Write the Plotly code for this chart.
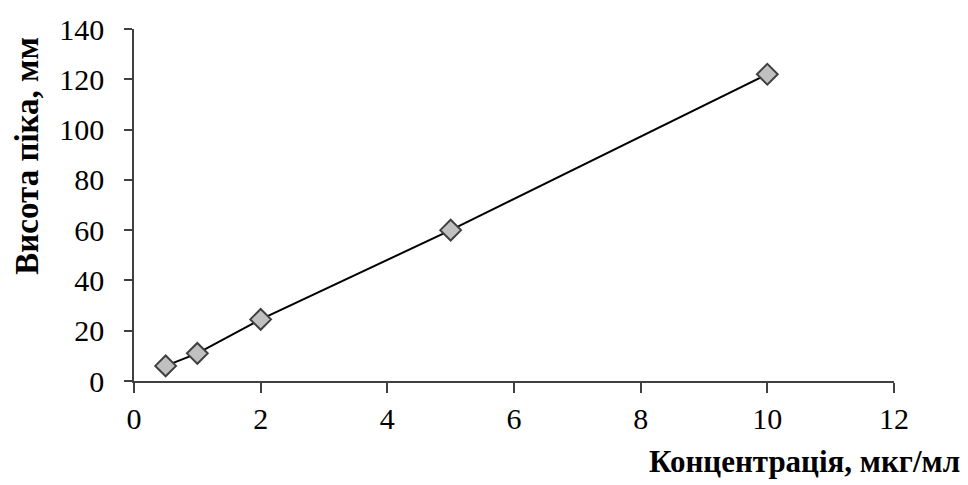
import plotly.graph_objects as go

concentration = [0.5, 1, 2, 5, 10]
peak_height = [6, 11, 24.5, 60, 122]
x_ticks = [0, 2, 4, 6, 8, 10, 12]
y_ticks = [0, 20, 40, 60, 80, 100, 120, 140]
x_title = "Концентрація, мкг/мл"
y_title = "Висота піка, мм"

SERIF = "'Liberation Serif', 'Times New Roman', serif"

fig = go.Figure()
fig.add_trace(go.Scatter(
    x=concentration, y=peak_height, mode="lines",
    line=dict(color="black", width=2), showlegend=False, hoverinfo="skip"))
fig.add_trace(go.Scatter(
    x=concentration, y=peak_height, mode="markers",
    marker=dict(symbol="diamond", size=16, color="#c0c0c0",
                line=dict(color="#404040", width=2)),
    showlegend=False))

fig.update_layout(
    width=968, height=485,
    margin=dict(l=134, r=74, t=25, b=104),
    plot_bgcolor="white", paper_bgcolor="white",
    font=dict(family=SERIF, size=30, color="black"),
    xaxis=dict(range=[0, 12], tickvals=x_ticks, showgrid=False, zeroline=False,
               showline=True, linecolor="#404040", linewidth=1.5,
               ticks="outside", ticklen=10, tickcolor="#404040", tickwidth=1.5,
               ticklabelstandoff=0,
               tickfont=dict(family=SERIF, size=30, color="black"), fixedrange=True),
    yaxis=dict(range=[0, 140], tickvals=y_ticks, showgrid=False, zeroline=False,
               showline=True, linecolor="#404040", linewidth=1.5,
               ticks="outside", ticklen=8, tickcolor="#404040", tickwidth=1.5,
               ticklabelstandoff=14,
               tickfont=dict(family=SERIF, size=30, color="black"), fixedrange=True),
    annotations=[
        dict(text="<b>" + x_title + "</b>", xref="paper", yref="paper",
             x=1.0 + 68 / 760, y=0, xanchor="right", yanchor="middle", yshift=-80,
             showarrow=False, font=dict(family=SERIF, size=31, color="black")),
        dict(text="<b>" + y_title + "</b>", xref="paper", yref="paper",
             x=0, y=0.64, xanchor="center", yanchor="middle", xshift=-107,
             textangle=-90, showarrow=False,
             font=dict(family=SERIF, size=33, color="black")),
    ],
)

fig.write_html("out.html", config={"displayModeBar": False},
               post_script="document.body.style.margin='0';document.body.style.padding='0';")
